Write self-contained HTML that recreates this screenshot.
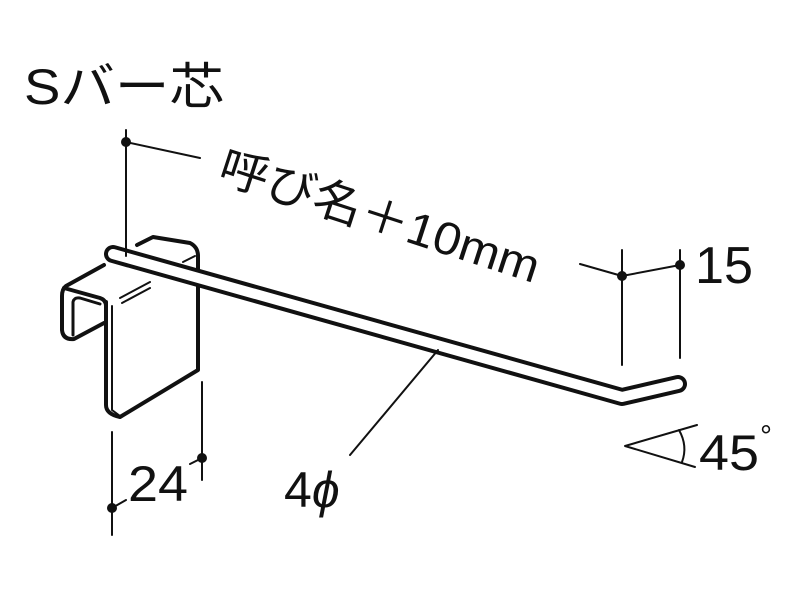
<!DOCTYPE html>
<html><head><meta charset="utf-8"><style>
html,body{margin:0;padding:0;background:#fff;width:800px;height:600px;overflow:hidden}
svg{display:block}
text{font-family:"Liberation Sans","Noto Sans CJK JP",sans-serif;fill:#111}
</style></head><body>
<svg width="800" height="600" viewBox="0 0 800 600" xmlns="http://www.w3.org/2000/svg">
<g stroke="#111" fill="none" stroke-linecap="round" stroke-linejoin="round">
<!-- bracket back part -->
<path d="M137 245 L153 237 L190 243 Q198 247 198 256 L198 370 L120 417 Q106 414 106 405 L106 302" stroke-width="4" fill="#fff"/>
<!-- hook -->
<path d="M104 265 L66 286 Q62 289 62 296 L62 330 Q63 340 74 339 L104 323" stroke-width="4" fill="#fff"/>
<path d="M64 288 L100 298 Q106 300 106 306" stroke-width="4"/>
<path d="M73 335 L73 302 Q74 297 80 298 L100 304" stroke-width="3"/>
<path d="M112 306 L112 410 L120 416" stroke-width="2"/>
<path d="M120 298 L150 282" stroke-width="2"/>
<path d="M122 303 L150 288" stroke-width="2"/>
<path d="M183 262 L195 256" stroke-width="2"/>
<!-- rod -->
<path d="M113 254 L622 397 L678 384" stroke-width="18"/>
<path d="M113 254 L622 397 L678 384" stroke="#fff" stroke-width="10"/>
<!-- dimension lines -->
<path d="M126 130 L126 256" stroke-width="2"/>
<path d="M126 142 L200 158" stroke-width="2"/>
<path d="M580 264 L622 276 L680 265" stroke-width="2"/>
<path d="M622 250 L622 365" stroke-width="2"/>
<path d="M680 250 L680 358" stroke-width="2"/>
<path d="M112 432 L112 535" stroke-width="2"/>
<path d="M202 382 L202 480" stroke-width="2"/>
<path d="M112 508 L126 500" stroke-width="2"/>
<path d="M190 464 L202 458" stroke-width="2"/>
<path d="M350 455 L438 350" stroke-width="2"/>
<path d="M697 425 L625 446 L695 467" stroke-width="2"/>
<path d="M679 430 Q688 446 682 462" stroke-width="2"/>
</g>
<g fill="#111">
<circle cx="126" cy="142" r="5"/><circle cx="622" cy="276" r="5"/><circle cx="680" cy="265" r="5"/>
<circle cx="112" cy="508" r="5"/><circle cx="202" cy="458" r="5"/>
</g>
<text x="24" y="104" font-size="50" textLength="200" lengthAdjust="spacingAndGlyphs">Sバー芯</text>
<text x="0" y="0" font-size="46" textLength="334" lengthAdjust="spacingAndGlyphs" transform="translate(216,180) rotate(18)">呼び名＋10mm</text>
<text x="695" y="283" font-size="52" textLength="58" lengthAdjust="spacingAndGlyphs">15</text>
<text x="128" y="501" font-size="50" textLength="60" lengthAdjust="spacingAndGlyphs">24</text>
<text x="284" y="507" font-size="50">4<tspan font-style="italic">ϕ</tspan></text>
<text x="699" y="470" font-size="50" textLength="60" lengthAdjust="spacingAndGlyphs">45</text>
<text x="760" y="446" font-size="30">°</text>
</svg>
</body></html>
